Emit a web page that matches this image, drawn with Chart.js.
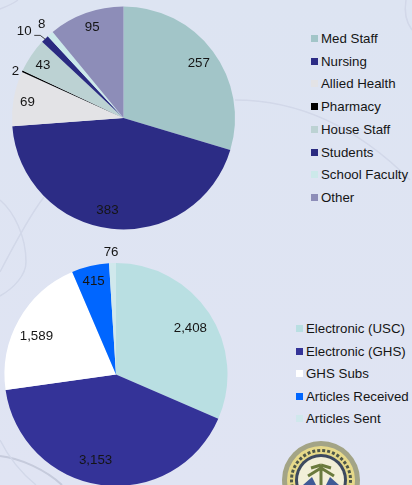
<!DOCTYPE html>
<html>
<head>
<meta charset="utf-8">
<script src="https://cdn.jsdelivr.net/npm/chart.js@4"></script>
<style>
    html, body { margin: 0; padding: 0; }
    body {
        position: relative; width: 412px; height: 485px; overflow: hidden;
        background: linear-gradient(#dde4f2, #e0e4f3);
        font-family: "Liberation Sans", Arial, sans-serif; color: #151515;
    }
    #backdrop { position: absolute; left: 0; top: 0; }
    canvas { position: absolute; }
    #chart1 { left: 0; top: 0; }
    #chart2 { left: 0; top: 235px; }
    .legend { position: absolute; font-size: 13.3px; line-height: 15px; white-space: nowrap; }
    .legend div { position: absolute; left: 0; }
    .legend i { position: absolute; left: 0; top: 4px; width: 7px; height: 7px; }
    .legend span { position: absolute; left: 10px; top: 0; }
</style>
</head>
<body>
<svg id="backdrop" width="412" height="485">
    <defs>
        <filter id="soft"><feGaussianBlur stdDeviation="0.7"/></filter>
        <filter id="softer"><feGaussianBlur stdDeviation="0.6"/></filter>
    </defs>
    <g fill="none" stroke="#d2d8e9" stroke-width="1.5" filter="url(#softer)">
        <path d="M235 100 C290 100 350 120 410 180"/>
        <path d="M0 9 C8 6 14 3 18 0"/>
        <path d="M406 0 C404 12 406 22 412 30"/>
        <path d="M44 197 C30 215 14 245 0 272"/>
        <path d="M0 200 C14 212 26 236 26 262 C26 275 14 288 0 296"/>
        <path d="M0 456 C20 458 46 470 62 485" stroke="#c6cbdc" stroke-width="2"/>
        <path d="M0 440 C8 456 20 472 36 485"/>
    </g>
    <g filter="url(#soft)">
        <circle cx="321" cy="480" r="39" fill="#a3a486"/>
        <circle cx="321" cy="480" r="34" fill="#e6d98a"/>
        <circle cx="321" cy="480" r="29.5" fill="none" stroke="#4d5648" stroke-width="3" stroke-dasharray="3 2"/>
        <circle cx="321" cy="480" r="26" fill="#3d4a5e"/>
        <circle cx="321" cy="480" r="23" fill="#f2efd8"/>
        <path d="M321 465 L321 485 M321 468 L308 476 M321 468 L334 476 M321 465 L311 468 M321 465 L331 468" stroke="#6b7a3c" stroke-width="3" fill="none"/>
        <path d="M303 485 L312 477 L316 485 Z M339 485 L330 477 L326 485 Z" fill="#3f5a96"/>
    </g>
</svg>
<canvas id="chart1" width="247" height="236"></canvas>
<canvas id="chart2" width="232" height="279"></canvas>
<div id="legend1" class="legend" style="left:311px;top:31px"></div>
<div id="legend2" class="legend" style="left:296px;top:321px"></div>

<script>
const staffLabels = ['Med Staff', 'Nursing', 'Allied Health', 'Pharmacy', 'House Staff', 'Students', 'School Faculty', 'Other'];
const staffValues = [257, 383, 69, 2, 43, 10, 8, 95];
const staffColors = ['#a2c5c8', '#2c2c85', '#e3e3e6', '#000000', '#bcd2d3', '#2a2a80', '#cce9ea', '#8d8db8'];

const usageLabels = ['Electronic (USC)', 'Electronic (GHS)', 'GHS Subs', 'Articles Received', 'Articles Sent'];
const usageValues = [2408, 3153, 1589, 415, 76];
const usageColors = ['#b9dfe2', '#343398', '#ffffff', '#0066ff', '#d0e8ec'];

// label nudges from the 83% radius point of each slice
const staffNudges = [[1, 1], [-6, 0], [-5, 1], [-24, -8], [-4, -1], [-34, -21], [-21, -24], [0, -4]];
const usageNudges = [[-3, 5], [-8, -6], [1, 7], [-1, -3], [-2, -30]];

const PIE_RADIUS = 111.5;

// draws the value labels, plus the elbow line for the slices flagged in leaders
const pieLabels = {
    id: 'pieLabels',
    afterDatasetsDraw(chart, args, opts) {
        const ctx = chart.ctx;
        const values = chart.data.datasets[0].data;
        ctx.save();
        ctx.font = '13.3px "Liberation Sans", Arial, sans-serif';
        ctx.fillStyle = '#151515';
        ctx.textAlign = 'center';
        ctx.textBaseline = 'middle';
        chart.getDatasetMeta(0).data.forEach((arc, i) => {
            const mid = (arc.startAngle + arc.endAngle) / 2;
            const x = arc.x + Math.cos(mid) * arc.outerRadius * 0.83 + opts.nudges[i][0];
            const y = arc.y + Math.sin(mid) * arc.outerRadius * 0.83 + opts.nudges[i][1];
            ctx.fillText(values[i].toLocaleString('en-US'), x, y);
            if (opts.leaders.includes(i)) {
                ctx.beginPath();
                ctx.strokeStyle = '#151515';
                ctx.lineWidth = 0.8;
                ctx.moveTo(x + 10, y + 4);
                ctx.lineTo(x + 16, y + 4);
                ctx.lineTo(arc.x + Math.cos(mid) * arc.outerRadius, arc.y + Math.sin(mid) * arc.outerRadius);
                ctx.stroke();
            }
        });
        ctx.restore();
    }
};

function drawPie(canvasId, labels, values, colors, nudges, leaders) {
    new Chart(document.getElementById(canvasId), {
        type: 'pie',
        data: { labels: labels, datasets: [{ data: values, backgroundColor: colors, borderWidth: 0, radius: PIE_RADIUS }] },
        options: {
            responsive: false,
            animation: false,
            plugins: {
                legend: { display: false },
                tooltip: { enabled: false },
                pieLabels: { nudges: nudges, leaders: leaders }
            }
        },
        plugins: [pieLabels]
    });
}

function drawLegend(boxId, labels, colors, rowHeight) {
    document.getElementById(boxId).innerHTML = labels.map((name, i) =>
        `<div style="top:${Math.round(i * rowHeight)}px"><i style="background:${colors[i]}"></i><span>${name}</span></div>`
    ).join('');
}

drawPie('chart1', staffLabels, staffValues, staffColors, staffNudges, [5]);
drawPie('chart2', usageLabels, usageValues, usageColors, usageNudges, []);
drawLegend('legend1', staffLabels, staffColors, 22.7);
drawLegend('legend2', usageLabels, usageColors, 22.5);
</script>
</body>
</html>
